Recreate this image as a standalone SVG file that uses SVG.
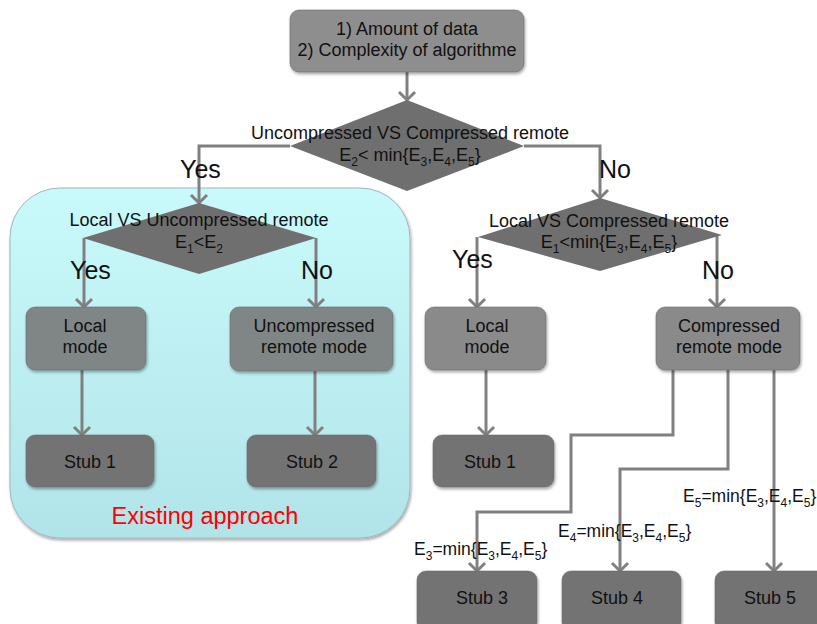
<svg xmlns="http://www.w3.org/2000/svg" width="817" height="624" viewBox="0 0 817 624">
  <defs>
    <linearGradient id="cyanFill" x1="0" y1="0" x2="0" y2="1">
      <stop offset="0" stop-color="#c9fafb"/>
      <stop offset="1" stop-color="#b1e4e9"/>
    </linearGradient>
    <filter id="shadow" x="-10%" y="-10%" width="125%" height="130%">
      <feGaussianBlur in="SourceAlpha" stdDeviation="1.5"/>
      <feOffset dx="1" dy="2" result="b"/>
      <feComponentTransfer><feFuncA type="linear" slope="0.35"/></feComponentTransfer>
      <feMerge><feMergeNode/><feMergeNode in="SourceGraphic"/></feMerge>
    </filter>
    <marker id="arrow" markerUnits="userSpaceOnUse" markerWidth="18" markerHeight="18" refX="9" refY="9" orient="auto" overflow="visible">
      <path d="M1,1 L9,9 L1,17" fill="none" stroke="#808080" stroke-width="3"/>
    </marker>
  </defs>
  <style>
    text { font-family: "Liberation Sans", Arial, sans-serif; fill: #111; }
    .t18 { font-size: 18px; text-anchor: middle; }
    .big { font-size: 25px; }
    .sub { font-size: 12px; }
    .lbl { font-size: 17.5px; }
    .box { stroke: #6a6a6a; stroke-width: 0.6; filter: url(#shadow); }
    .top { fill: #8e8e8e; }
    .mode { fill: #808686; }
    .mode2 { fill: #8a8a8a; }
    .stub { fill: #737373; }
    .dia { fill: #6f6f6f; }
    .conn { fill: none; stroke: #808080; stroke-width: 3; }
  </style>

  <!-- highlighted region of the existing approach -->
  <g id="existing-approach">
    <rect x="10" y="188" width="400" height="350" rx="50" ry="50" fill="url(#cyanFill)" stroke="#a3b5b7" stroke-width="1" filter="url(#shadow)"/>
    <text x="205" y="524" style="font-size:23.5px;text-anchor:middle;fill:#ff0000">Existing approach</text>
  </g>

  <!-- connectors -->
  <g id="connectors" class="conn">
    <path d="M407,72 V100" marker-end="url(#arrow)"/>
    <path d="M290,146 H199 V203" marker-end="url(#arrow)"/>
    <path d="M524,146 H600 V198" marker-end="url(#arrow)"/>
    <path d="M84,238 V307" marker-end="url(#arrow)"/>
    <path d="M316,238 V307" marker-end="url(#arrow)"/>
    <path d="M82,370 V435" marker-end="url(#arrow)"/>
    <path d="M315,371 V435" marker-end="url(#arrow)"/>
    <path d="M477,237 V307" marker-end="url(#arrow)"/>
    <path d="M717,236 V307" marker-end="url(#arrow)"/>
    <path d="M486,370 V435" marker-end="url(#arrow)"/>
    <path d="M673,370 V435 H571 V512 H477 V571" marker-end="url(#arrow)"/>
    <path d="M728,370 V469 H620 V571" marker-end="url(#arrow)"/>
    <path d="M774,370 V571" marker-end="url(#arrow)"/>
  </g>

  <g id="start">
    <rect class="box top" x="290" y="10" width="234" height="62" rx="9"/>
    <text class="t18" x="407" y="35">1) Amount of data</text>
    <text class="t18" x="407" y="56">2) Complexity of algorithme</text>
  </g>

  <g id="decision-main">
    <polygon class="dia" points="407,100 524,146 407,191 290,146"/>
    <text class="t18" x="410" y="139">Uncompressed VS Compressed remote</text>
    <text class="t18" x="410" y="161">E<tspan class="sub" dy="5">2</tspan><tspan dy="-5">&lt; min{E</tspan><tspan class="sub" dy="5">3</tspan><tspan dy="-5">,E</tspan><tspan class="sub" dy="5">4</tspan><tspan dy="-5">,E</tspan><tspan class="sub" dy="5">5</tspan><tspan dy="-5">}</tspan></text>
  </g>
  <text class="big" x="180" y="178">Yes</text>
  <text class="big" x="599" y="178">No</text>

  <g id="decision-left">
    <polygon class="dia" points="199,203 316,238 199,274 83,238"/>
    <text class="t18" x="199" y="226">Local VS Uncompressed remote</text>
    <text class="t18" x="199" y="248">E<tspan class="sub" dy="5">1</tspan><tspan dy="-5">&lt;E</tspan><tspan class="sub" dy="5">2</tspan></text>
  </g>
  <text class="big" x="70" y="279">Yes</text>
  <text class="big" x="301" y="279">No</text>

  <g id="decision-right">
    <polygon class="dia" points="600,198 722,235 600,271 478,237"/>
    <text class="t18" x="609" y="227">Local VS Compressed remote</text>
    <text class="t18" x="609" y="248">E<tspan class="sub" dy="5">1</tspan><tspan dy="-5">&lt;min{E</tspan><tspan class="sub" dy="5">3</tspan><tspan dy="-5">,E</tspan><tspan class="sub" dy="5">4</tspan><tspan dy="-5">,E</tspan><tspan class="sub" dy="5">5</tspan><tspan dy="-5">}</tspan></text>
  </g>
  <text class="big" x="452" y="268">Yes</text>
  <text class="big" x="702" y="279">No</text>

  <g id="local-mode-left">
    <rect class="box mode" x="26" y="307" width="120" height="63" rx="9"/>
    <text class="t18" x="85" y="332">Local</text>
    <text class="t18" x="85" y="353">mode</text>
  </g>
  <g id="uncompressed-remote-mode">
    <rect class="box mode" x="230" y="307" width="163" height="64" rx="9"/>
    <text class="t18" x="314" y="332">Uncompressed</text>
    <text class="t18" x="314" y="353">remote mode</text>
  </g>
  <g id="stub1-left">
    <rect class="box stub" x="26" y="435" width="128" height="52" rx="9"/>
    <text class="t18" x="90" y="468">Stub 1</text>
  </g>
  <g id="stub2">
    <rect class="box stub" x="247" y="435" width="129" height="52" rx="9"/>
    <text class="t18" x="312" y="468">Stub 2</text>
  </g>

  <g id="local-mode-right">
    <rect class="box mode2" x="425" y="307" width="121" height="63" rx="9"/>
    <text class="t18" x="487" y="332">Local</text>
    <text class="t18" x="487" y="353">mode</text>
  </g>
  <g id="compressed-remote-mode">
    <rect class="box mode2" x="656" y="307" width="144" height="63" rx="9"/>
    <text class="t18" x="729" y="332">Compressed</text>
    <text class="t18" x="729" y="353">remote mode</text>
  </g>
  <g id="stub1-right">
    <rect class="box stub" x="433" y="435" width="121" height="52" rx="9"/>
    <text class="t18" x="490" y="468">Stub 1</text>
  </g>
  <g id="stub3">
    <rect class="box stub" x="417" y="571" width="120" height="60" rx="9"/>
    <text class="t18" x="482" y="604">Stub 3</text>
  </g>
  <g id="stub4">
    <rect class="box stub" x="562" y="571" width="119" height="60" rx="9"/>
    <text class="t18" x="617" y="604">Stub 4</text>
  </g>
  <g id="stub5">
    <rect class="box stub" x="715" y="571" width="120" height="60" rx="9"/>
    <text class="t18" x="770" y="604">Stub 5</text>
  </g>

  <!-- selection conditions on the stub branches -->
  <text class="lbl" x="683" y="502">E<tspan class="sub" dy="5">5</tspan><tspan dy="-5">=min{E</tspan><tspan class="sub" dy="5">3</tspan><tspan dy="-5">,E</tspan><tspan class="sub" dy="5">4</tspan><tspan dy="-5">,E</tspan><tspan class="sub" dy="5">5</tspan><tspan dy="-5">}</tspan></text>
  <text class="lbl" x="558" y="537">E<tspan class="sub" dy="5">4</tspan><tspan dy="-5">=min{E</tspan><tspan class="sub" dy="5">3</tspan><tspan dy="-5">,E</tspan><tspan class="sub" dy="5">4</tspan><tspan dy="-5">,E</tspan><tspan class="sub" dy="5">5</tspan><tspan dy="-5">}</tspan></text>
  <text class="lbl" x="414" y="555">E<tspan class="sub" dy="5">3</tspan><tspan dy="-5">=min{E</tspan><tspan class="sub" dy="5">3</tspan><tspan dy="-5">,E</tspan><tspan class="sub" dy="5">4</tspan><tspan dy="-5">,E</tspan><tspan class="sub" dy="5">5</tspan><tspan dy="-5">}</tspan></text>
</svg>
